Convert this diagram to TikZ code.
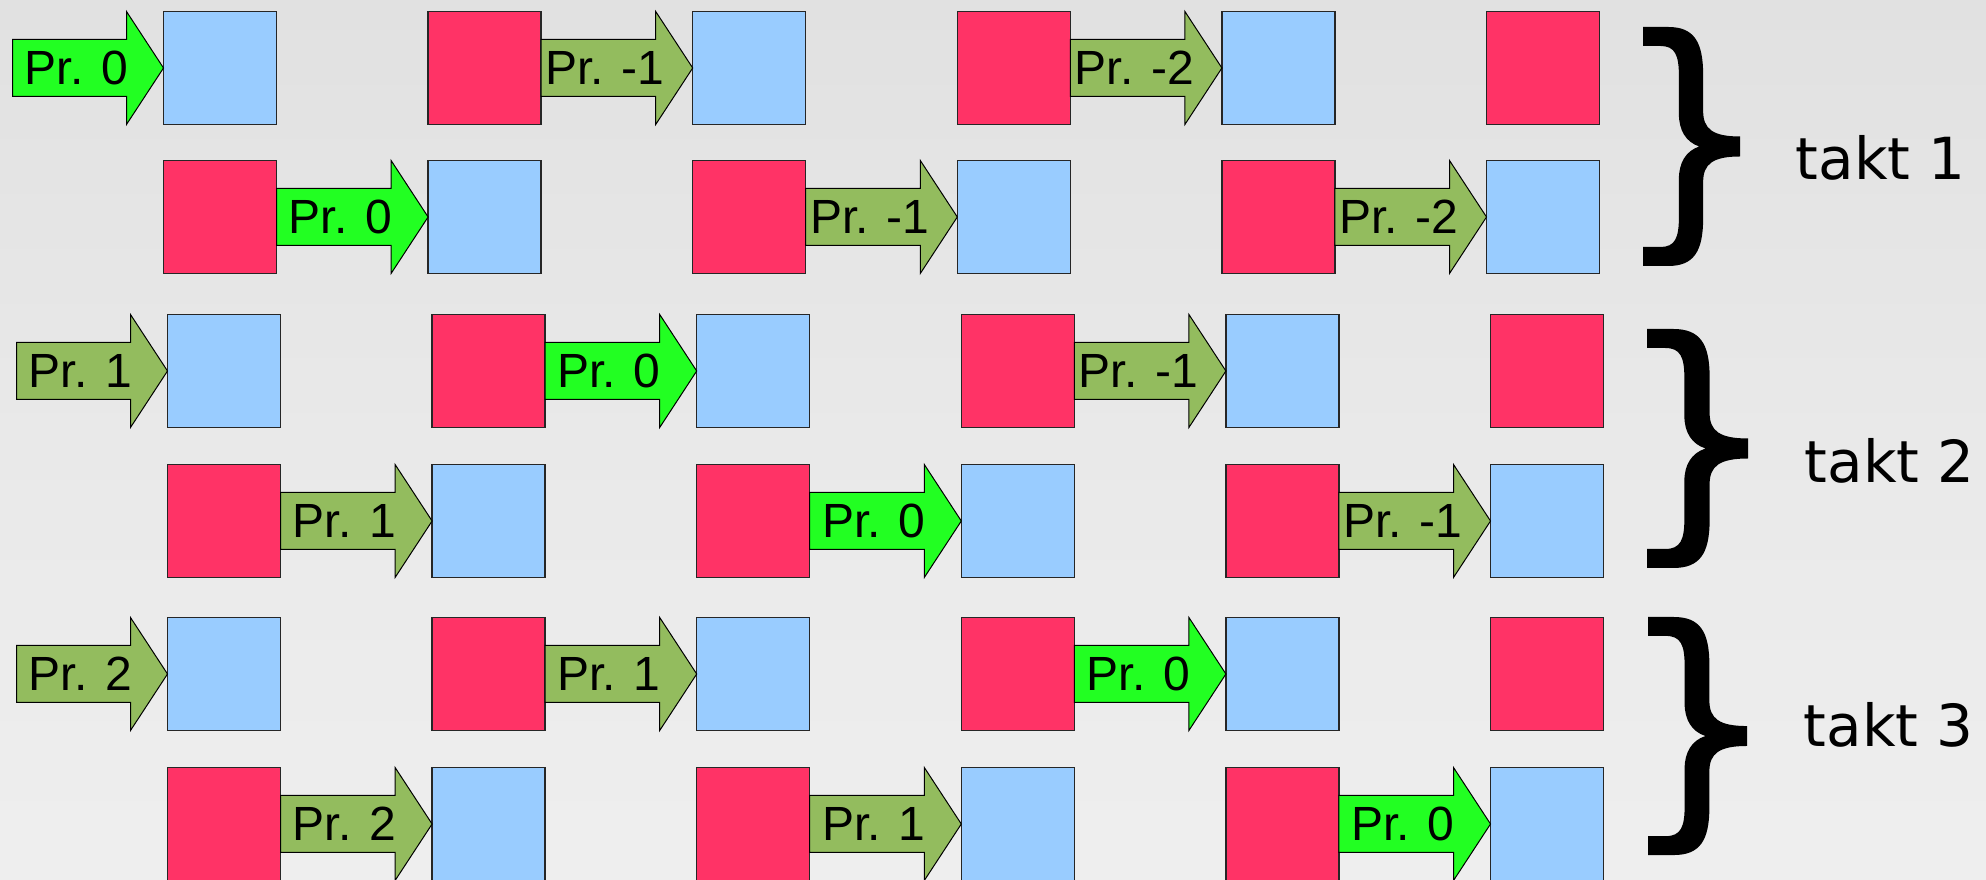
\documentclass[tikz,border=0pt]{standalone}
\usepackage{fontspec}
\setmainfont{Liberation Sans}
\newfontfamily\taktfont{DejaVu Sans}
\usetikzlibrary{calc}
\definecolor{sqblue}{HTML}{99CCFF}
\definecolor{sqred}{HTML}{FF3366}
\definecolor{prnow}{HTML}{22FF22}
\definecolor{prold}{HTML}{93BC5E}
\definecolor{bgT}{HTML}{E8E8E8}
\definecolor{bgM}{HTML}{E0E0E0}
\definecolor{bgL}{HTML}{E9E9E9}
\definecolor{bgB}{HTML}{F4F4F4}
\pgfdeclareverticalshading{bgshade}{100bp}{color(0bp)=(bgB); color(50bp)=(bgL); color(78bp)=(bgM); color(100bp)=(bgT)}
% #1 start, #2 tip, #3 fill, #4 label, #5 label node name
\newcommand\procarrow[5]{%
  \draw[arrowline, fill=#3] let \p1=(#1), \p2=(#2) in
    (\x1,\y1+28.5pt) -- (\x2-37pt,\y1+28.5pt) -- (\x2-37pt,\y1+56.5pt) -- (\x2,\y2)
    -- (\x2-37pt,\y1-56.5pt) -- (\x2-37pt,\y1-28.5pt) -- (\x1,\y1-28.5pt) -- cycle;
  \path let \p1=(#1) in node[prlabel] (#5) at (\x1+64pt,\y1) {#4};
}
\newcommand\bigbrace{%
  \fill (0,0) -- (26,0) .. controls (52,0) and (62,14) .. (62,48) -- (62,84)
    .. controls (62,102) and (72,109.5) .. (100,109.5) -- (100,129.5)
    .. controls (72,129.5) and (62,137) .. (62,155) -- (62,191)
    .. controls (62,225) and (52,239) .. (26,239) -- (0,239) -- (0,220) -- (18,220)
    .. controls (33,220) and (37,211) .. (37,190) -- (37,152)
    .. controls (37,136) and (44,124) .. (58,119.5)
    .. controls (44,115) and (37,103) .. (37,87) -- (37,49)
    .. controls (37,28) and (33,19) .. (18,19) -- (0,19) -- cycle;
}
\begin{document}
\begin{tikzpicture}[x=1pt,y=1pt,
  sq/.style={draw=black!85, line width=1.3pt, minimum size=113pt, inner sep=0pt, outer sep=0pt},
  bluesq/.style={sq, fill=sqblue},
  redsq/.style={sq, fill=sqred},
  arrowline/.style={draw=black, line width=1pt, line join=miter},
  prlabel/.style={font=\fontsize{48}{56}\selectfont, inner sep=0pt, text=black},
  takt/.style={font=\taktfont\fontsize{58}{68}\selectfont, anchor=base west, inner sep=0pt}]
\useasboundingbox (0,0) rectangle (1986,880);
\shade[shading=bgshade] (0,0) rectangle (1986,880);

% squares
\foreach \r/\y/\xo/\odd in {1/812/220/1, 2/663/220/0, 3/509/224/1, 4/359/224/0, 5/206/224/1, 6/56/224/0} {
  \foreach \c in {0,...,5} {
    \pgfmathtruncatemacro\isblue{mod(\c+\odd,2)}
    \pgfmathsetmacro\xc{\xo+264.6*\c}
    \ifnum\isblue=1
      \node[bluesq] (s\r c\c) at (\xc,\y) {};
    \else
      \node[redsq] (s\r c\c) at (\xc,\y) {};
    \fi
  }
}

% free starts of the first arrows in rows 1, 3, 5
\coordinate (st1) at ($(s1c0.west)+(-151,0)$);
\coordinate (st3) at ($(s3c0.west)+(-151,0)$);
\coordinate (st5) at ($(s5c0.west)+(-151,0)$);

% takt 1
\procarrow{st1}{s1c0.west}{prnow}{Pr. 0}{l11}
\procarrow{s1c1.east}{s1c2.west}{prold}{Pr. -1}{l12}
\procarrow{s1c3.east}{s1c4.west}{prold}{Pr. -2}{l13}
\procarrow{s2c0.east}{s2c1.west}{prnow}{Pr. 0}{l21}
\procarrow{s2c2.east}{s2c3.west}{prold}{Pr. -1}{l22}
\procarrow{s2c4.east}{s2c5.west}{prold}{Pr. -2}{l23}
% takt 2
\procarrow{st3}{s3c0.west}{prold}{Pr. 1}{l31}
\procarrow{s3c1.east}{s3c2.west}{prnow}{Pr. 0}{l32}
\procarrow{s3c3.east}{s3c4.west}{prold}{Pr. -1}{l33}
\procarrow{s4c0.east}{s4c1.west}{prold}{Pr. 1}{l41}
\procarrow{s4c2.east}{s4c3.west}{prnow}{Pr. 0}{l42}
\procarrow{s4c4.east}{s4c5.west}{prold}{Pr. -1}{l43}
% takt 3
\procarrow{st5}{s5c0.west}{prold}{Pr. 2}{l51}
\procarrow{s5c1.east}{s5c2.west}{prold}{Pr. 1}{l52}
\procarrow{s5c3.east}{s5c4.west}{prnow}{Pr. 0}{l53}
\procarrow{s6c0.east}{s6c1.west}{prold}{Pr. 2}{l61}
\procarrow{s6c2.east}{s6c3.west}{prold}{Pr. 1}{l62}
\procarrow{s6c4.east}{s6c5.west}{prnow}{Pr. 0}{l63}

% braces
\begin{scope}[shift={(1643,853)}, xscale=0.97, yscale=-1]\bigbrace\end{scope}
\begin{scope}[shift={(1647,551)}, xscale=1.01, yscale=-1]\bigbrace\end{scope}
\begin{scope}[shift={(1648,263)}, xscale=0.99, yscale=-0.996]\bigbrace\end{scope}

% takt labels
\node[takt] (t1) at (1795.5,700) {takt 1};
\node[takt] (t2) at (1804.5,397) {takt 2};
\node[takt] (t3) at (1803.5,133) {takt 3};
\end{tikzpicture}
\end{document}
